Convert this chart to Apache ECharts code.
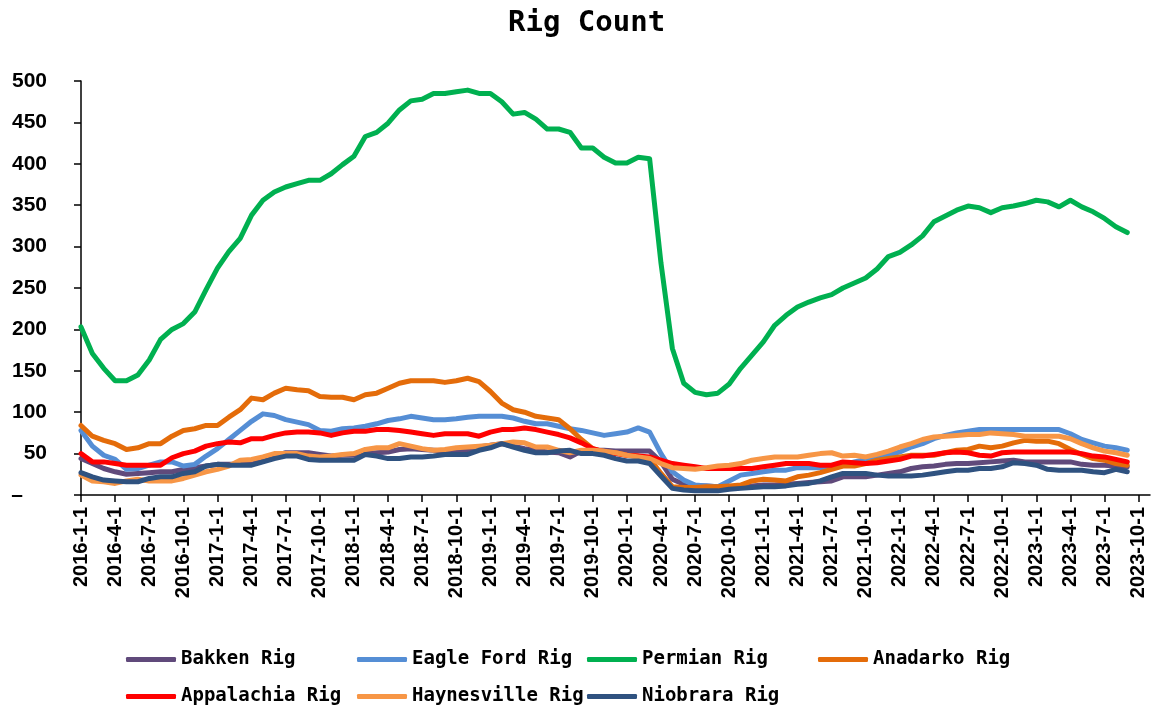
<!DOCTYPE html>
<html>
<head>
<meta charset="utf-8">
<script src="https://cdn.jsdelivr.net/npm/echarts@6/dist/echarts.min.js"></script>
<style>html,body{margin:0;padding:0;background:#fff}#c{width:1151px;height:711px}</style>
</head>
<body>
<div id="c"></div>
<script>
// category labels: monthly 2016-1-1 .. 2023-11-1
const startYear = 2016, endYear = 2023, endMonth = 11;
const categories = [];
for (let y = startYear; y <= endYear; y++) {
  for (let m = 1; m <= 12; m++) {
    if (y === endYear && m > endMonth) break;
    categories.push(y + '-' + m + '-1');
  }
}
const yTicks = [0, 50, 100, 150, 200, 250, 300, 350, 400, 450, 500];

const bakken = [44,38,32,28,25,26,27,28,28,31,33,35,37,37,37,37,42,47,51,51,
51,49,47,48,48,50,51,52,55,56,55,54,53,54,55,58,60,62,59,56,
54,52,51,46,53,54,54,53,53,53,53,40,19,13,11,11,10,10,10,11,
12,12,13,14,15,16,17,22,22,22,24,26,28,32,34,35,37,38,38,39,
40,41,42,40,40,40,40,40,37,36,36,35,34];
const eagleFord = [78,59,48,43,31,32,36,40,40,35,37,47,56,67,78,89,98,96,91,88,
85,78,77,80,81,83,86,90,92,95,93,91,91,92,94,95,95,95,93,89,
86,86,83,80,78,75,72,74,76,81,76,50,28,18,12,11,10,17,24,26,
28,30,30,33,33,33,34,36,40,43,46,48,52,58,62,68,72,75,77,79,
79,79,79,79,79,79,79,74,67,63,59,57,54];
const permian = [203,171,153,138,138,145,163,188,200,207,221,248,274,294,310,338,356,366,372,376,
380,380,388,399,409,433,438,449,465,476,478,485,485,487,489,485,485,475,460,462,
454,442,442,438,419,419,408,401,401,408,406,280,177,135,124,121,123,134,153,169,
185,205,217,227,233,238,242,250,256,262,273,288,293,302,313,330,337,344,349,347,
341,347,349,352,356,354,348,356,348,342,334,324,317];
const anadarko = [84,71,66,62,55,57,62,62,71,78,80,84,84,94,103,117,115,123,129,127,
126,119,118,118,115,121,123,129,135,138,138,138,136,138,141,137,125,111,103,100,
95,93,91,80,67,56,52,51,48,47,44,26,10,9,9,10,10,11,12,17,
19,18,17,22,24,27,31,35,35,38,42,44,46,48,48,48,51,54,55,59,
57,59,63,66,65,65,62,55,49,44,42,38,36];
const appalachia = [50,40,40,38,36,36,36,36,45,50,53,59,62,64,63,68,68,72,75,76,
76,75,72,75,77,77,79,79,78,76,74,72,74,74,74,71,76,79,79,81,
79,76,73,69,63,56,52,50,48,47,46,42,38,36,34,32,32,32,32,32,
34,36,38,38,38,36,36,40,39,38,39,41,43,47,47,49,51,52,51,48,
47,51,52,52,52,52,52,52,50,47,46,43,40];
const haynesville = [24,17,16,14,17,19,17,17,17,20,24,28,31,35,42,43,46,50,50,50,
47,46,47,49,50,55,57,57,62,59,56,54,55,57,58,59,60,62,64,63,
58,58,54,51,54,54,53,51,48,46,44,38,33,32,31,33,35,36,38,42,
44,46,46,46,48,50,51,47,48,46,49,53,58,62,67,70,71,72,73,73,
75,74,73,71,71,71,71,68,62,57,53,51,48];
const niobrara = [27,22,18,17,16,16,20,22,22,26,28,35,37,36,36,36,40,44,47,47,
43,42,42,42,42,49,47,44,44,46,46,47,49,49,49,54,57,62,58,54,
51,51,53,54,50,50,48,44,41,41,38,23,8,6,5,5,5,7,8,9,
10,10,11,13,14,17,22,26,26,26,24,23,23,23,24,26,28,30,30,32,
32,34,39,38,36,31,30,30,30,28,27,31,28];

const seriesNames = ['Bakken Rig','Eagle Ford Rig','Permian Rig','Anadarko Rig','Appalachia Rig','Haynesville Rig','Niobrara Rig'];
const seriesData = [bakken, eagleFord, permian, anadarko, appalachia, haynesville, niobrara];
const colors = ['#604A7B','#558ED5','#00B050','#E46C0A','#FF0000','#F79646','#2F5280'];

const legendPos = [[126,650],[357,650],[587,650],[818,650],[126,687],[357,687],[587,687]];
const legends = seriesNames.map((n, i) => ({
  data: [n],
  left: legendPos[i][0],
  top: legendPos[i][1],
  orient: 'horizontal',
  icon: 'roundRect',
  itemWidth: 50,
  itemHeight: 5,
  padding: 0,
  textStyle: {fontFamily: 'DejaVu Sans Mono', fontWeight: 'bold', fontSize: 19, color: '#000'}
}));

const chart = echarts.init(document.getElementById('c'));
chart.setOption({
  animation: false,
  backgroundColor: '#fff',
  color: colors,
  title: {
    text: 'Rig Count',
    left: 503,
    top: 4,
    textStyle: {fontFamily: 'DejaVu Sans Mono', fontWeight: 'bold', fontSize: 29, color: '#000'}
  },
  legend: legends,
  grid: {left: 81, right: 1, top: 81, bottom: 216, containLabel: false},
  xAxis: {
    type: 'category',
    data: categories,
    boundaryGap: false,
    axisLine: {lineStyle: {color: '#000', width: 1.5}},
    axisTick: {interval: 2, length: 7, lineStyle: {color: '#000', width: 1.5}},
    axisLabel: {interval: 2, rotate: 90, margin: 12, fontFamily: 'Liberation Sans', fontWeight: 'bold', fontSize: 20, color: '#000'},
    splitLine: {show: false}
  },
  yAxis: {
    type: 'value',
    min: yTicks[0],
    max: yTicks[yTicks.length - 1],
    interval: 50,
    axisLine: {show: true, lineStyle: {color: '#000', width: 1.5}},
    axisTick: {show: true, length: 7, lineStyle: {color: '#000', width: 1.5}},
    axisLabel: {
      margin: 34,
      fontFamily: 'Liberation Sans', fontWeight: 'bold', fontSize: 21, color: '#000',
      formatter: v => v === 0 ? '{d|–}' : String(v),
      rich: {d: {fontFamily: 'Liberation Sans', fontWeight: 'bold', fontSize: 21, color: '#000', padding: [0, 24, 0, 0]}}
    },
    splitLine: {show: false}
  },
  series: seriesNames.map((n, i) => ({
    name: n,
    type: 'line',
    data: seriesData[i],
    symbol: 'none',
    showSymbol: false,
    smooth: false,
    lineStyle: {width: 5, color: colors[i], cap: 'round', join: 'round'},
    itemStyle: {color: colors[i]}
  }))
});
</script>
</body>
</html>
